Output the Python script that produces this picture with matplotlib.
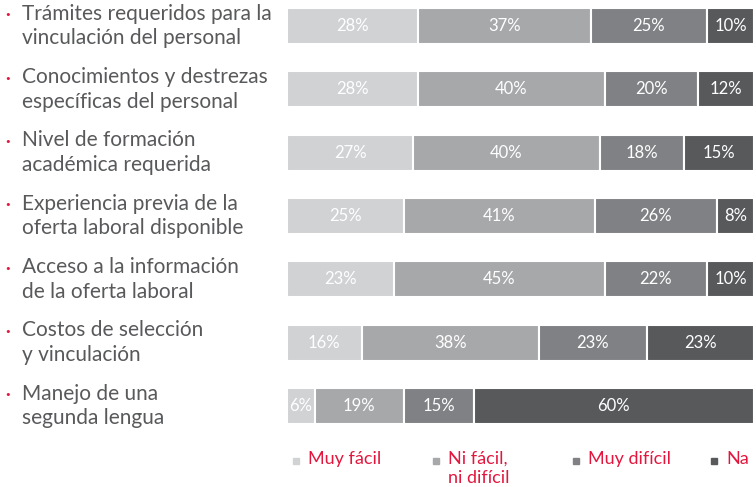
import matplotlib.pyplot as plt
from matplotlib.transforms import blended_transform_factory

plt.rcParams['font.family'] = ['Lato', 'DejaVu Sans']

# Datos
categorias = [
    "Trámites requeridos para la\nvinculación del personal",
    "Conocimientos y destrezas\nespecíficas del personal",
    "Nivel de formación\nacadémica requerida",
    "Experiencia previa de la\noferta laboral disponible",
    "Acceso a la información\nde la oferta laboral",
    "Costos de selección\ny vinculación",
    "Manejo de una\nsegunda lengua",
]
muy_facil = [28, 28, 27, 25, 23, 16, 6]
ni_facil = [37, 40, 40, 41, 45, 38, 19]
muy_dificil = [25, 20, 18, 26, 22, 23, 15]
na = [10, 12, 15, 8, 10, 23, 60]

series = [muy_facil, ni_facil, muy_dificil, na]
nombres = ["Muy fácil", "Ni fácil,\nni difícil", "Muy difícil", "Na"]
colores = ["#d1d2d4", "#a7a8aa", "#808184", "#58595b"]
rojo = "#e3173e"
gris_texto = "#58595b"

W, H = 756, 487
fig = plt.figure(figsize=(W / 100, H / 100), dpi=100)
ax = fig.add_axes([287 / W, 1 - 437 / H, 467 / W, 437 / H])

y = list(range(len(categorias)))
izq = [0] * len(categorias)
for vals, col in zip(series, colores):
    ax.barh(y, vals, left=izq, height=0.57, color=col, edgecolor="white", linewidth=1.5)
    for i, v in enumerate(vals):
        ax.text(izq[i] + v / 2, i, f"{v}%", ha="center", va="center",
                color="white", fontsize=12)
    izq = [a + b for a, b in zip(izq, vals)]

ax.set_xlim(0, 100)
ax.set_ylim(6.49, -0.411)
ax.axis("off")

# Etiquetas de categoria
trans = blended_transform_factory(fig.transFigure, ax.transData)
for i, cat in enumerate(categorias):
    ax.text(8 / W, i - 0.17, "·", transform=trans, ha="center", va="center",
            color=rojo, fontsize=12, fontweight="bold")
    ax.text(22 / W, i, cat, transform=trans, ha="left", va="center",
            color=gris_texto, fontsize=15, linespacing=1.3)

# Leyenda
ley_x = [296, 436, 576, 714]
for xp, nom, col in zip(ley_x, nombres, colores):
    fig.patches.append(plt.Rectangle(((xp - 3) / W, 1 - 464 / H), 6 / W, 6 / H,
                                     transform=fig.transFigure, color=col))
    fig.text((xp + 12) / W, 1 - 451 / H, nom, ha="left", va="top",
             color=rojo, fontsize=13, linespacing=1.25)

fig.savefig("out.png", dpi=100)
